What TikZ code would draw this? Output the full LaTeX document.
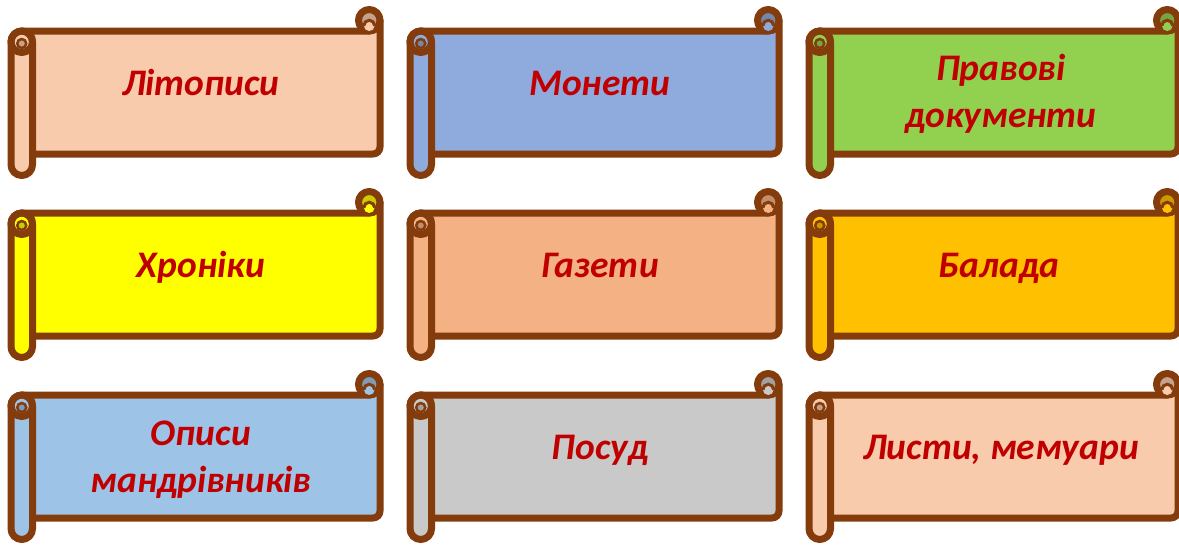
\documentclass[tikz,border=0pt]{standalone}
\usepackage{fontspec}
\setmainfont{Carlito}
\definecolor{edge}{HTML}{843C0C}
\definecolor{txt}{HTML}{C00000}
\definecolor{cA}{HTML}{F8CBAD}
\definecolor{cB}{HTML}{8FAADC}
\definecolor{cC}{HTML}{92D050}
\definecolor{cD}{HTML}{FFFF00}
\definecolor{cE}{HTML}{F4B183}
\definecolor{cF}{HTML}{FFC000}
\definecolor{cG}{HTML}{9DC3E6}
\definecolor{cH}{HTML}{C9C9C9}
\tikzset{
  scrollline/.style={draw=edge, line width=7pt, line join=round},
  scrolltext/.style={font=\fontsize{37.5}{47}\selectfont\bfseries\itshape, text=txt, align=center, inner sep=0pt},
}
\newcommand\myscroll[3]{%
\begin{scope}[shift={(#1,-#2)}]
\filldraw[scrollline, fill=#3] (10.75,-21.5) -- (358.25,-21.5) arc[start angle=-90,end angle=0,radius=10.75] -- (369,-137.5) arc[start angle=0,end angle=-90,radius=7] -- (10.75,-144.5) -- cycle;
\filldraw[scrollline, fill=#3!80!black] (358.25,-10.75) circle[radius=10.75];
\fill[#3] (358.25,-16.15) circle[radius=5.4];
\draw[edge, line width=3pt] (363.65,-16.15) arc[start angle=0,end angle=180,radius=5.4];
\filldraw[scrollline, fill=#3] (0,-32.25) -- (0,-155.25) arc[start angle=180,end angle=360,radius=10.75] -- (21.5,-32.25) arc[start angle=0,end angle=180,radius=10.75] -- cycle;
\draw[scrollline] (10.75,-32.25) circle[radius=10.75];
\filldraw[draw=edge, line width=2.5pt, fill=#3!80!black] (10.75,-34) circle[radius=4.5];
\end{scope}}
\begin{document}
\begin{tikzpicture}[x=1pt,y=1pt]
\useasboundingbox (0,0) rectangle (1179,-544);
\fill[white] (0,0) rectangle (1179,-544);
\myscroll{11}{9.5}{cA}
\myscroll{410}{9.5}{cB}
\myscroll{809}{9.5}{cC}
\myscroll{11}{191.5}{cD}
\myscroll{410}{191.5}{cE}
\myscroll{809}{191.5}{cF}
\myscroll{11}{373.5}{cG}
\myscroll{410}{373.5}{cH}
\myscroll{809}{373.5}{cA}
\node[scrolltext, anchor=base] (t1) at (200.9,-95) {Літописи};
\node[scrolltext, anchor=base] (t2) at (599.9,-95) {Монети};
\node[scrolltext, anchor=base] (t3) at (1001,-127) {Правові\\документи};
\node[scrolltext, anchor=base] (t4) at (200.9,-277) {Хроніки};
\node[scrolltext, anchor=base] (t5) at (599.9,-277) {Газети};
\node[scrolltext, anchor=base] (t6) at (998.9,-277) {Балада};
\node[scrolltext, anchor=base] (t7) at (200.9,-492) {Описи\\мандрівників};
\node[scrolltext, anchor=base] (t8) at (599.9,-459) {Посуд};
\node[scrolltext, anchor=base] (t9) at (1001,-459) {Листи, мемуари};
\end{tikzpicture}
\end{document}
